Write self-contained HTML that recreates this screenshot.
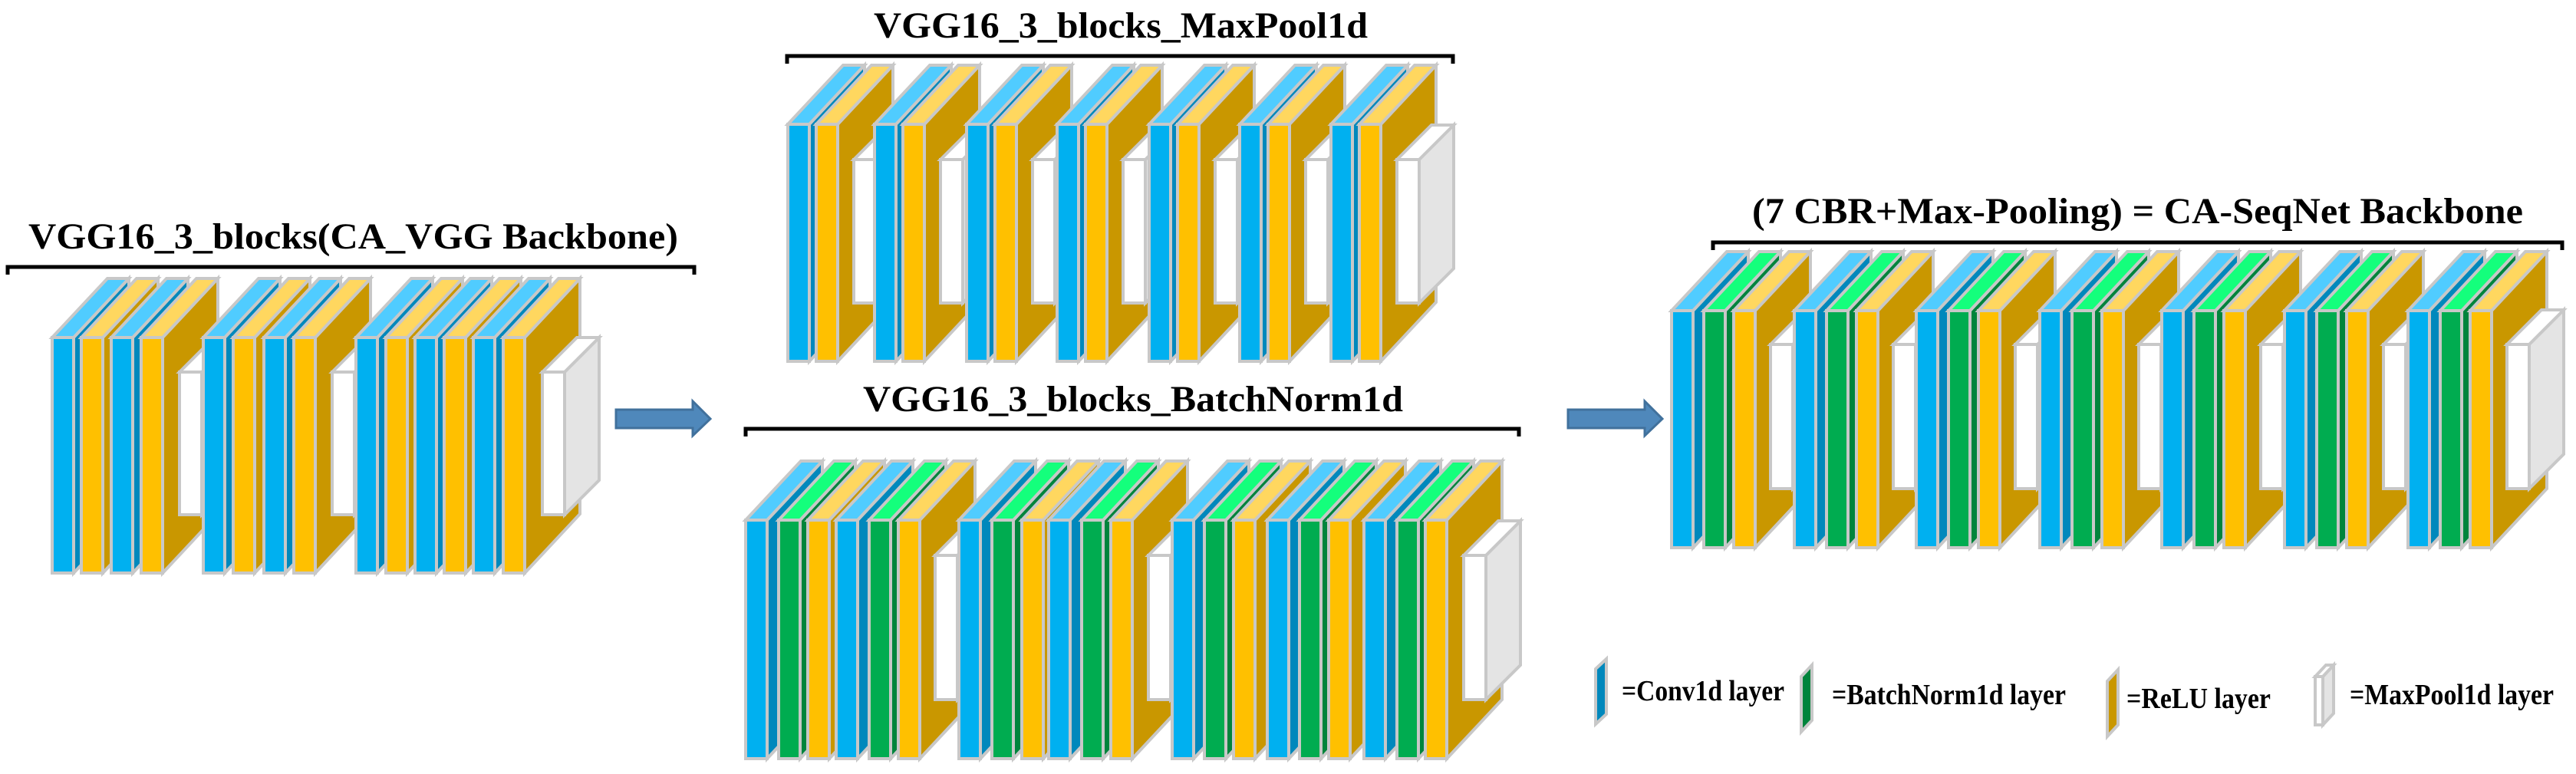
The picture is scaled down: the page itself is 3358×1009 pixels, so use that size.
<!DOCTYPE html>
<html><head><meta charset="utf-8"><style>
html,body{margin:0;padding:0;background:#fff;}
svg{display:block;}
text{font-family:"Liberation Serif",serif;font-weight:bold;fill:#000;}
</style></head><body>
<svg id="s" width="3358" height="1009" viewBox="0 0 3358 1009" xmlns="http://www.w3.org/2000/svg">
<g id="slabs"></g>
<g fill="none" stroke="#000" stroke-width="5">
<polyline points="10,358 10,348 905,348 905,358"/>
<polyline points="1026,83 1026,73 1894,73 1894,83"/>
<polyline points="972,569 972,559 1980,559 1980,569"/>
<polyline points="2233,326 2233,316 3340,316 3340,326"/>
</g>
<text x="37" y="324" font-size="48" textLength="847" lengthAdjust="spacingAndGlyphs">VGG16_3_blocks(CA_VGG Backbone)</text>
<text x="1139" y="49" font-size="48" textLength="644" lengthAdjust="spacingAndGlyphs">VGG16_3_blocks_MaxPool1d</text>
<text x="1125" y="536" font-size="48" textLength="704" lengthAdjust="spacingAndGlyphs">VGG16_3_blocks_BatchNorm1d</text>
<text x="2284" y="291" font-size="48" textLength="1005" lengthAdjust="spacingAndGlyphs">(7 CBR+Max-Pooling) = CA-SeqNet Backbone</text>
<g fill="#4F88BB" stroke="#41719C" stroke-width="3">
<polygon points="803,534 903,534 903,523 926,546 903,568 903,558 803,558"/>
<polygon points="2044,534 2144,534 2144,523 2167,546 2144,568 2144,558 2044,558"/>
</g>
<g stroke="#C8C8C8" stroke-width="4">
<polygon points="2080,944 2080,872 2094,859 2094,931" fill="#0088BC"/>
<polygon points="2348,954 2348,882 2362,867 2362,939" fill="#00843C"/>
<polygon points="2747,960 2747,888 2761,873 2761,945" fill="#C99700"/>
<rect x="3018" y="882" width="10" height="63" fill="#fff"/>
<polygon points="3028,945 3028,882 3042,867 3042,930" fill="#E4E4E4"/>
<polygon points="3018,882 3032,867 3042,867 3028,882" fill="#fff"/>
</g>
<text x="2114" y="913" font-size="38" textLength="212" lengthAdjust="spacingAndGlyphs">=Conv1d layer</text>
<text x="2388" y="918" font-size="38" textLength="305" lengthAdjust="spacingAndGlyphs">=BatchNorm1d layer</text>
<text x="2772" y="923" font-size="38" textLength="188" lengthAdjust="spacingAndGlyphs">=ReLU layer</text>
<text x="3063" y="918" font-size="38" textLength="266" lengthAdjust="spacingAndGlyphs">=MaxPool1d layer</text>
</svg>
<script>
(function(){
var C={C:["#00B0F0","#50CCFF","#0088BC"],B:["#00AC50","#14FF7C","#00843C"],R:["#FFC000","#FFD75F","#C99700"],M:["#FFFFFF","#FFFFFF","#E4E4E4"]};
var g=document.getElementById("slabs"),out="";
function slab(t,x,y,h){
 var w,dx,dy;
 if(t==="M"){w=29;dx=45;dy=45;}else{w=28;dx=72;dy=77;}
 var c=C[t];
 var st=' stroke="#C8C8C8" stroke-width="4" stroke-linejoin="miter"';
 out+='<polygon points="'+(x+w)+','+y+' '+(x+w+dx)+','+(y-dy)+' '+(x+w+dx)+','+(y+h-dy)+' '+(x+w)+','+(y+h)+'" fill="'+c[2]+'"'+st+'/>';
 out+='<polygon points="'+x+','+y+' '+(x+dx)+','+(y-dy)+' '+(x+w+dx)+','+(y-dy)+' '+(x+w)+','+y+'" fill="'+c[1]+'"'+st+'/>';
 out+='<rect x="'+x+'" y="'+y+'" width="'+w+'" height="'+h+'" fill="'+c[0]+'"'+st+'/>';
}
function grp(list,y,h,my,mh){list.forEach(function(e){if(e[0]==="M")slab("M",e[1],my,mh);else slab(e[0],e[1],y,h);});}
// Left
grp([["C",68],["R",106],["C",145],["R",184],["M",234],["C",265],["R",304],["C",344],["R",383],["M",433],["C",464],["R",503],["C",541],["R",579],["C",617],["R",656],["M",707]],440,307,485,186);
// Middle top
var L=[],bs=[1027,1140,1260,1378,1498,1616,1735],mp=[1113,1226,1346,1464,1584,1702,1821];
bs.forEach(function(b,i){L.push(["C",b],["R",b+37],["M",mp[i]]);});
grp(L,162,309,208,187);
// Bottom
L=[];
[0,43,81,118,161,199].forEach(function(o,i){L.push(["CBRCBR"[i],972+o]);});L.push(["M",1219]);
[0,43,82,117,160,198].forEach(function(o,i){L.push(["CBRCBR"[i],1250+o]);});L.push(["M",1497]);
[0,42,80,124,166,204,250,293,330].forEach(function(o,i){L.push(["CBRCBRCBR"[i],1528+o]);});L.push(["M",1908]);
grp(L,678,311,724,188);
// Right
L=[];
[2179,2339,2498,2659,2818,2978,3139].forEach(function(b,i){L.push(["C",b],["B",b+42],["R",b+81],["M",b+129]);});
grp(L,405,309,449,188);
g.innerHTML=out;
})();
</script>
</body></html>
